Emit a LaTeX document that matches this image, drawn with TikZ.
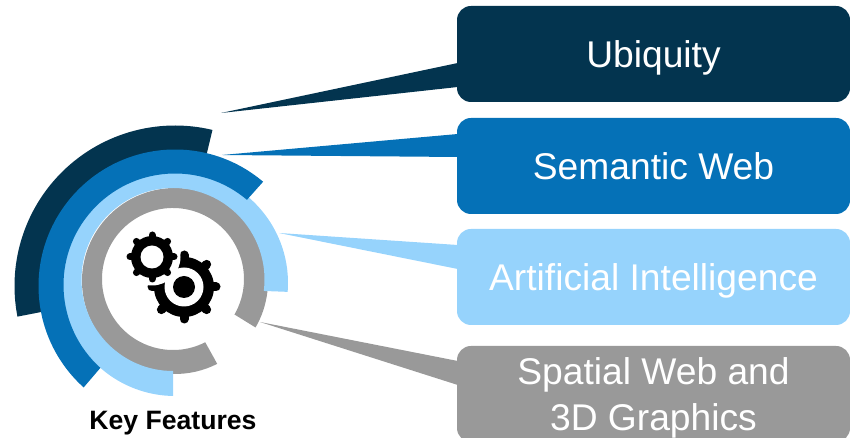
\documentclass[tikz,border=0pt]{standalone}
\usepackage{fontspec}
\setmainfont{Liberation Sans}
\usetikzlibrary{calc}
\definecolor{ubiquitycol}{HTML}{03344F}
\definecolor{semanticcol}{HTML}{0571B7}
\definecolor{aicol}{HTML}{96D3FC}
\definecolor{spatialcol}{HTML}{999999}
\tikzset{
  featbox/.style={rounded corners=14pt,minimum width=393pt,minimum height=96pt,inner sep=0pt,
    text=white,align=center,text height=34pt,text depth=6pt,font=\fontsize{37.2}{45.5}\selectfont},
  featlabel/.style={inner sep=0pt,text=white,align=center,font=\fontsize{37.2}{45.5}\selectfont},
  toothline/.style={line cap=round}
}
\begin{document}
\begin{tikzpicture}[x=1pt,y=1pt]
  \useasboundingbox (0,0) rectangle (850,438);
  \coordinate (cout) at (175,152);
  \coordinate (cmid) at (175,153);
  \coordinate (clight) at (175,155);
  \coordinate (clightin) at (173,158.5);
  \coordinate (cgray) at (175,157);
  \coordinate (cgrayin) at (173,159);
  \coordinate (csmall) at (152,181);
  \coordinate (cbig) at (184,151);
  \coordinate (tipu) at (221,325);
  \coordinate (tips) at (222,283);
  \coordinate (tipa) at (279,205);
  \coordinate (tipg) at (260,116);
  % boxes
  \node[featbox,fill=ubiquitycol] (ubiquity) at (653.5,384) {Ubiquity};
  \node[featbox,fill=semanticcol] (semantic) at (653.5,272) {Semantic Web};
  \node[featbox,fill=aicol] (ai) at (653.5,161) {Artificial Intelligence};
  \node[featbox,fill=spatialcol] (spatial) at (653.5,44) {};
  \node[featlabel] (spatiallabel) at (653.5,40) {Spatial Web and\\3D Graphics};
  % wedges
  \fill[ubiquitycol] (tipu) -- ([xshift=1pt,yshift=-9pt]ubiquity.west) -- ([xshift=1pt,yshift=-33pt]ubiquity.west) -- cycle;
  \fill[semanticcol] (tips) -- ([xshift=1pt,yshift=32pt]semantic.west) -- ([xshift=1pt,yshift=9pt]semantic.west) -- cycle;
  \fill[aicol] (tipa) -- ([xshift=1pt,yshift=32pt]ai.west) -- ([xshift=1pt,yshift=8pt]ai.west) -- cycle;
  \fill[spatialcol] (tipg) -- ([xshift=1pt,yshift=33pt]spatial.west) -- ([xshift=1pt,yshift=9pt]spatial.west) -- cycle;
  % rings
  \fill[ubiquitycol] ($(cout)+(76.5:160.5)$) arc[start angle=76.5,end angle=191,radius=160.5]
    -- ($(cout)+(191:130)$) arc[start angle=191,end angle=76.5,radius=130] -- cycle;
  \fill[spatialcol] ($(cgray)+(-30:93)$) arc[start angle=-30,end angle=297,radius=93]
    -- ($(cgrayin)+(297:71)$) arc[start angle=297,end angle=-30,radius=71] -- cycle;
  \fill[aicol] ($(clight)+(-4.5:113)$) arc[start angle=-4.5,end angle=269,radius=113]
    -- ($(clightin)+(270:91.5)$) arc[start angle=270,end angle=-7.2,radius=91.5] -- cycle;
  \fill[semanticcol] ($(cout)+(49.8:136.5)$) arc[start angle=49.8,end angle=228,radius=136.5]
    -- ($(cmid)+(228:111.5)$) arc[start angle=228,end angle=49.8,radius=111.5] -- cycle;
  % big gear
  \fill (cbig) circle[radius=30];
  \foreach \a in {0,45,...,315}
    \draw[toothline,line width=9pt] (cbig) ++(\a:26) -- ++(\a:6);
  \fill[white] (cbig) circle[radius=19.5];
  \fill (cbig) circle[radius=11];
  % small gear
  \fill[white] (csmall) circle[radius=28.5];
  \fill (csmall) circle[radius=21];
  \foreach \a in {0,45,...,315}
    \draw[toothline,line width=7pt] (csmall) ++(\a:18) -- ++(\a:4);
  \fill[white] (csmall) circle[radius=11.5];
  \node[font=\bfseries\fontsize{26.6}{30}\selectfont,inner sep=0pt] (keyfeatures) at (173,15) {Key Features};
\end{tikzpicture}
\end{document}
